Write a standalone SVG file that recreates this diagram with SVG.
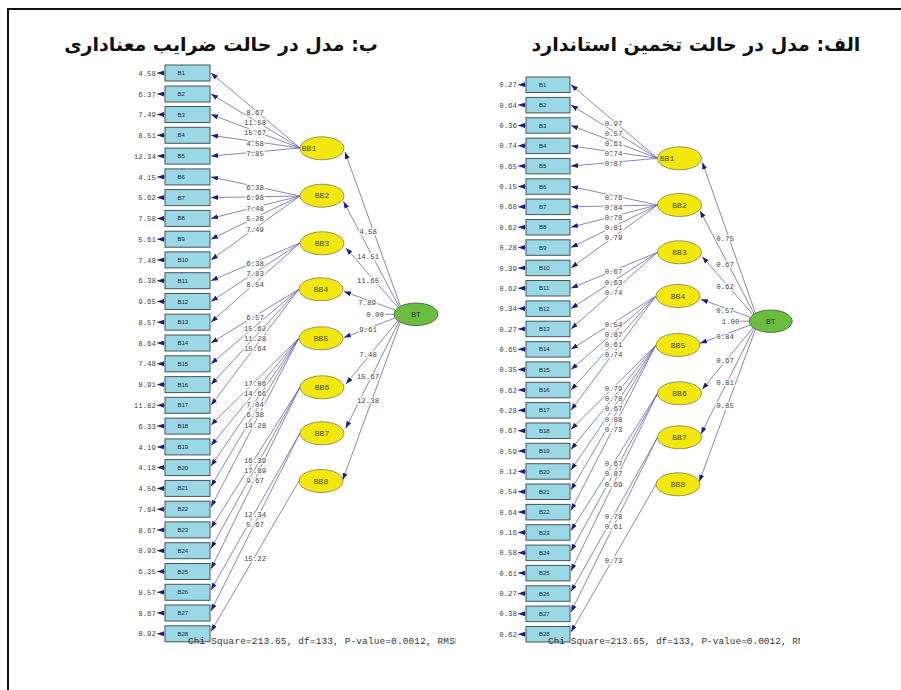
<svg xmlns="http://www.w3.org/2000/svg" width="901" height="690" viewBox="0 0 901 690">
<style>
.frame{fill:none;stroke:#111;stroke-width:2}
.ttl{font-family:"DejaVu Sans",sans-serif;font-weight:bold;font-size:19px;fill:#111;text-anchor:middle}
.box{fill:#9bd8e6;stroke:#45555a;stroke-width:1}
.bt{font-family:"Liberation Sans",sans-serif;font-size:6px;fill:#223}
.ell{fill:#f2e70f;stroke:#7d7d55;stroke-width:0.8}
.gr{fill:#6bbd42;stroke:#3d5c33;stroke-width:0.8}
.et{font-family:"Liberation Mono",monospace;font-size:8px;fill:#4a4a10;text-anchor:middle}
.gt{font-family:"Liberation Mono",monospace;font-size:8px;fill:#1f3d1a;text-anchor:middle}
.ln{stroke:#6868a8;stroke-width:0.8;fill:none;marker-end:url(#ah)}
.pl{stroke:#6868a8;stroke-width:0.8;fill:none}
.lb{font-family:"Liberation Mono",monospace;font-size:7.4px;fill:#444;text-anchor:middle;stroke:#fff;stroke-width:2.5;paint-order:stroke;stroke-linejoin:round}
.er{font-family:"Liberation Mono",monospace;font-size:7.4px;fill:#444;text-anchor:end}
.chi{font-family:"Liberation Mono",monospace;font-size:9.4px;fill:#333}
</style>
<defs>
<marker id="ah" markerUnits="userSpaceOnUse" markerWidth="7" markerHeight="5" refX="7" refY="2.5" orient="auto"><path d="M0,0 L7,2.5 L0,5 z" fill="#1e1e78"/></marker>
<clipPath id="cl"><rect x="0" y="630" width="456" height="20"/></clipPath>
<clipPath id="cr"><rect x="500" y="630" width="300" height="20"/></clipPath>
</defs>
<rect x="0" y="0" width="901" height="690" fill="#fff"/>
<path class="frame" d="M8,690 V9 H901"/>
<text class="ttl" x="221" y="51">ب: مدل در حالت ضرایب معناداری</text>
<text class="ttl" x="696" y="51" font-size="18.5">الف: مدل در حالت تخمین استاندارد</text>

<g id="connectors">
<line class="ln" x1="300" y1="148" x2="211" y2="73"/>
<line class="ln" x1="300" y1="148" x2="211" y2="94"/>
<line class="ln" x1="300" y1="148" x2="211" y2="114.5"/>
<line class="ln" x1="300" y1="148" x2="211" y2="135.3"/>
<line class="ln" x1="300" y1="148" x2="211" y2="156.1"/>
<line class="ln" x1="300" y1="196" x2="211" y2="176.9"/>
<line class="ln" x1="300" y1="196" x2="211" y2="197.6"/>
<line class="ln" x1="300" y1="196" x2="211" y2="218.4"/>
<line class="ln" x1="300" y1="196" x2="211" y2="239.2"/>
<line class="ln" x1="300" y1="196" x2="211" y2="259.9"/>
<line class="ln" x1="300" y1="243" x2="211" y2="280.7"/>
<line class="ln" x1="300" y1="243" x2="211" y2="301.5"/>
<line class="ln" x1="300" y1="243" x2="211" y2="322.2"/>
<line class="ln" x1="299" y1="289" x2="211" y2="343"/>
<line class="ln" x1="299" y1="289" x2="211" y2="363.8"/>
<line class="ln" x1="299" y1="289" x2="211" y2="384.6"/>
<line class="ln" x1="299" y1="289" x2="211" y2="405.3"/>
<line class="ln" x1="299" y1="338" x2="211" y2="425"/>
<line class="ln" x1="299" y1="338" x2="211" y2="445.5"/>
<line class="ln" x1="299" y1="338" x2="211" y2="466"/>
<line class="ln" x1="299" y1="338" x2="211" y2="486.5"/>
<line class="ln" x1="299" y1="338" x2="211" y2="507"/>
<line class="ln" x1="300" y1="387" x2="211" y2="528"/>
<line class="ln" x1="300" y1="387" x2="211" y2="548.5"/>
<line class="ln" x1="300" y1="387" x2="211" y2="569"/>
<line class="ln" x1="300" y1="433" x2="211" y2="590"/>
<line class="ln" x1="300" y1="433" x2="211" y2="611"/>
<line class="ln" x1="299" y1="481" x2="211" y2="631.5"/>
<line class="ln" x1="400.4" y1="306" x2="345" y2="152"/>
<line class="ln" x1="399.1" y1="306.7" x2="343.5" y2="201.5"/>
<line class="ln" x1="398" y1="307.5" x2="346" y2="248"/>
<line class="ln" x1="395.3" y1="310.1" x2="344" y2="291.5"/>
<line class="ln" x1="395.3" y1="317.9" x2="344" y2="337.5"/>
<line class="ln" x1="398" y1="320.5" x2="346" y2="384"/>
<line class="ln" x1="399.1" y1="321.3" x2="345.7" y2="428.3"/>
<line class="ln" x1="400.4" y1="322" x2="342.7" y2="480"/>
<line class="pl" x1="385" y1="314.3" x2="394" y2="314.3"/>
<g class="ln">
<line x1="165" y1="73" x2="157" y2="73"/><line x1="165" y1="94" x2="157" y2="94"/><line x1="165" y1="114.5" x2="157" y2="114.5"/><line x1="165" y1="135.3" x2="157" y2="135.3"/><line x1="165" y1="156.1" x2="157" y2="156.1"/><line x1="165" y1="176.9" x2="157" y2="176.9"/><line x1="165" y1="197.6" x2="157" y2="197.6"/><line x1="165" y1="218.4" x2="157" y2="218.4"/><line x1="165" y1="239.2" x2="157" y2="239.2"/><line x1="165" y1="259.9" x2="157" y2="259.9"/><line x1="165" y1="280.7" x2="157" y2="280.7"/><line x1="165" y1="301.5" x2="157" y2="301.5"/><line x1="165" y1="322.2" x2="157" y2="322.2"/><line x1="165" y1="343" x2="157" y2="343"/><line x1="165" y1="363.8" x2="157" y2="363.8"/><line x1="165" y1="384.6" x2="157" y2="384.6"/><line x1="165" y1="405.3" x2="157" y2="405.3"/><line x1="165" y1="426.1" x2="157" y2="426.1"/><line x1="165" y1="446.9" x2="157" y2="446.9"/><line x1="165" y1="467.6" x2="157" y2="467.6"/><line x1="165" y1="488.4" x2="157" y2="488.4"/><line x1="165" y1="509.2" x2="157" y2="509.2"/><line x1="165" y1="529.9" x2="157" y2="529.9"/><line x1="165" y1="550.7" x2="157" y2="550.7"/><line x1="165" y1="571.5" x2="157" y2="571.5"/><line x1="165" y1="592.3" x2="157" y2="592.3"/><line x1="165" y1="613" x2="157" y2="613"/><line x1="165" y1="633.8" x2="157" y2="633.8"/>
</g>
<line class="ln" x1="657.5" y1="158.3" x2="571" y2="84.7"/>
<line class="ln" x1="657.5" y1="158.3" x2="571" y2="105.1"/>
<line class="ln" x1="657.5" y1="158.3" x2="571" y2="125.4"/>
<line class="ln" x1="657.5" y1="158.3" x2="571" y2="145.8"/>
<line class="ln" x1="657.5" y1="158.3" x2="571" y2="166.1"/>
<line class="ln" x1="657.5" y1="205" x2="571" y2="186.5"/>
<line class="ln" x1="657.5" y1="205" x2="571" y2="206.8"/>
<line class="ln" x1="657.5" y1="205" x2="571" y2="227.2"/>
<line class="ln" x1="657.5" y1="205" x2="571" y2="247.5"/>
<line class="ln" x1="657.5" y1="205" x2="571" y2="267.9"/>
<line class="ln" x1="657.5" y1="252.3" x2="571" y2="288.2"/>
<line class="ln" x1="657.5" y1="252.3" x2="571" y2="308.6"/>
<line class="ln" x1="657.5" y1="252.3" x2="571" y2="328.9"/>
<line class="ln" x1="656" y1="296" x2="571" y2="349.3"/>
<line class="ln" x1="656" y1="296" x2="571" y2="369.6"/>
<line class="ln" x1="656" y1="296" x2="571" y2="390"/>
<line class="ln" x1="656" y1="296" x2="571" y2="410.3"/>
<line class="ln" x1="656" y1="345" x2="571" y2="429.5"/>
<line class="ln" x1="656" y1="345" x2="571" y2="449.5"/>
<line class="ln" x1="656" y1="345" x2="571" y2="470"/>
<line class="ln" x1="656" y1="345" x2="571" y2="490"/>
<line class="ln" x1="656" y1="345" x2="571" y2="510.5"/>
<line class="ln" x1="657.5" y1="393.3" x2="571" y2="530.5"/>
<line class="ln" x1="657.5" y1="393.3" x2="571" y2="551"/>
<line class="ln" x1="657.5" y1="393.3" x2="571" y2="571"/>
<line class="ln" x1="657.5" y1="437.3" x2="571" y2="591.5"/>
<line class="ln" x1="657.5" y1="437.3" x2="571" y2="612"/>
<line class="ln" x1="656" y1="484.3" x2="571" y2="632"/>
<line class="ln" x1="755.5" y1="313.3" x2="702.3" y2="162.3"/>
<line class="ln" x1="754.2" y1="314" x2="700" y2="210.7"/>
<line class="ln" x1="753.1" y1="314.8" x2="702.3" y2="256.7"/>
<line class="ln" x1="750.5" y1="317.4" x2="701" y2="299.3"/>
<line class="ln" x1="750.5" y1="325" x2="700" y2="343.3"/>
<line class="ln" x1="753.1" y1="327.6" x2="702.3" y2="389.3"/>
<line class="ln" x1="754.2" y1="328.4" x2="701" y2="434"/>
<line class="ln" x1="755.5" y1="329.1" x2="699.3" y2="481.7"/>
<line class="pl" x1="740" y1="321.2" x2="749.3" y2="321.2"/>
<g class="ln">
<line x1="526" y1="84.7" x2="518" y2="84.7"/><line x1="526" y1="105.1" x2="518" y2="105.1"/><line x1="526" y1="125.4" x2="518" y2="125.4"/><line x1="526" y1="145.8" x2="518" y2="145.8"/><line x1="526" y1="166.1" x2="518" y2="166.1"/><line x1="526" y1="186.5" x2="518" y2="186.5"/><line x1="526" y1="206.8" x2="518" y2="206.8"/><line x1="526" y1="227.2" x2="518" y2="227.2"/><line x1="526" y1="247.5" x2="518" y2="247.5"/><line x1="526" y1="267.9" x2="518" y2="267.9"/><line x1="526" y1="288.2" x2="518" y2="288.2"/><line x1="526" y1="308.6" x2="518" y2="308.6"/><line x1="526" y1="328.9" x2="518" y2="328.9"/><line x1="526" y1="349.3" x2="518" y2="349.3"/><line x1="526" y1="369.6" x2="518" y2="369.6"/><line x1="526" y1="390" x2="518" y2="390"/><line x1="526" y1="410.3" x2="518" y2="410.3"/><line x1="526" y1="430.7" x2="518" y2="430.7"/><line x1="526" y1="451" x2="518" y2="451"/><line x1="526" y1="471.4" x2="518" y2="471.4"/><line x1="526" y1="491.7" x2="518" y2="491.7"/><line x1="526" y1="512.1" x2="518" y2="512.1"/><line x1="526" y1="532.4" x2="518" y2="532.4"/><line x1="526" y1="552.8" x2="518" y2="552.8"/><line x1="526" y1="573.1" x2="518" y2="573.1"/><line x1="526" y1="593.5" x2="518" y2="593.5"/><line x1="526" y1="613.8" x2="518" y2="613.8"/><line x1="526" y1="634.2" x2="518" y2="634.2"/>
</g>
</g>

<g id="path-labels-left">
<text class="lb" x="255" y="115">8.67</text><text class="lb" x="255" y="125">11.58</text><text class="lb" x="255" y="135.4">15.67</text><text class="lb" x="255" y="146">4.58</text><text class="lb" x="255" y="156.4">7.85</text>
<text class="lb" x="255" y="190">6.38</text><text class="lb" x="255" y="200.4">6.98</text><text class="lb" x="255" y="211">7.48</text><text class="lb" x="255" y="221.4">5.28</text><text class="lb" x="255" y="231.7">7.49</text>
<text class="lb" x="255" y="266">6.38</text><text class="lb" x="255" y="276.4">7.83</text><text class="lb" x="255" y="287">8.54</text>
<text class="lb" x="255" y="320.4">6.57</text><text class="lb" x="255" y="330.7">15.62</text><text class="lb" x="255" y="341">11.28</text><text class="lb" x="255" y="351.4">15.64</text>
<text class="lb" x="255" y="386">17.86</text><text class="lb" x="255" y="396.4">14.66</text><text class="lb" x="255" y="406.7">7.04</text><text class="lb" x="255" y="417.4">6.38</text><text class="lb" x="255" y="427.7">14.28</text>
<text class="lb" x="255" y="462.7">16.39</text><text class="lb" x="255" y="472.7">17.89</text><text class="lb" x="255" y="483">9.67</text>
<text class="lb" x="255" y="516.7">12.34</text><text class="lb" x="255" y="526.7">5.67</text>
<text class="lb" x="255" y="560.7">15.22</text>
<text class="lb" x="368" y="233.7">4.58</text><text class="lb" x="368" y="259.4">14.51</text><text class="lb" x="368" y="282.7">11.65</text><text class="lb" x="367" y="305.4">7.89</text><text class="lb" x="375" y="317">0.00</text><text class="lb" x="368" y="331.7">9.61</text><text class="lb" x="368" y="357">7.48</text><text class="lb" x="368" y="379.4">15.67</text><text class="lb" x="368" y="403.4">12.38</text>
</g>
<g id="path-labels-right">
<text class="lb" x="613.5" y="126">0.97</text><text class="lb" x="613.5" y="136">0.57</text><text class="lb" x="613.5" y="146.4">0.61</text><text class="lb" x="613.5" y="156.4">0.74</text><text class="lb" x="613.5" y="166.4">0.87</text>
<text class="lb" x="613.5" y="200">0.76</text><text class="lb" x="613.5" y="210">0.84</text><text class="lb" x="613.5" y="220.4">0.78</text><text class="lb" x="613.5" y="230.4">0.81</text><text class="lb" x="613.5" y="240.4">0.79</text>
<text class="lb" x="613.5" y="274.4">0.67</text><text class="lb" x="613.5" y="284.7">0.63</text><text class="lb" x="613.5" y="294.7">0.74</text>
<text class="lb" x="613.5" y="326.7">0.54</text><text class="lb" x="613.5" y="337">0.87</text><text class="lb" x="613.5" y="347.4">0.61</text><text class="lb" x="613.5" y="357.4">0.74</text>
<text class="lb" x="613.5" y="391">0.79</text><text class="lb" x="613.5" y="401">0.78</text><text class="lb" x="613.5" y="411.4">0.67</text><text class="lb" x="613.5" y="421.7">0.88</text><text class="lb" x="613.5" y="432">0.73</text>
<text class="lb" x="613.5" y="466">0.67</text><text class="lb" x="613.5" y="476.4">0.87</text><text class="lb" x="613.5" y="486.7">0.69</text>
<text class="lb" x="613.5" y="519.4">0.78</text><text class="lb" x="613.5" y="529.4">0.61</text>
<text class="lb" x="613.5" y="562.7">0.73</text>
<text class="lb" x="725" y="241">0.75</text><text class="lb" x="725" y="266.7">0.67</text><text class="lb" x="725" y="289.4">0.62</text><text class="lb" x="725" y="313.4">0.57</text><text class="lb" x="730.5" y="324">1.00</text><text class="lb" x="725" y="338.7">0.84</text><text class="lb" x="725" y="362.7">0.67</text><text class="lb" x="725" y="385">0.81</text><text class="lb" x="725" y="408.4">0.85</text>
</g>

<g id="error-labels">
<text class="er" x="156" y="75.6">4.58</text><text class="er" x="156" y="96.6">6.37</text><text class="er" x="156" y="117.1">7.49</text><text class="er" x="156" y="137.9">8.51</text><text class="er" x="156" y="158.7">12.34</text><text class="er" x="156" y="179.5">4.15</text><text class="er" x="156" y="200.2">5.62</text><text class="er" x="156" y="221">7.58</text><text class="er" x="156" y="241.8">5.61</text><text class="er" x="156" y="262.5">7.48</text><text class="er" x="156" y="283.3">6.38</text><text class="er" x="156" y="304.1">9.65</text><text class="er" x="156" y="324.8">8.57</text><text class="er" x="156" y="345.6">8.64</text><text class="er" x="156" y="366.4">7.48</text><text class="er" x="156" y="387.2">8.91</text><text class="er" x="156" y="407.9">11.82</text><text class="er" x="156" y="428.7">6.33</text><text class="er" x="156" y="449.5">4.19</text><text class="er" x="156" y="470.2">4.18</text><text class="er" x="156" y="491">4.56</text><text class="er" x="156" y="511.8">7.84</text><text class="er" x="156" y="532.5">8.67</text><text class="er" x="156" y="553.3">8.93</text><text class="er" x="156" y="574.1">6.35</text><text class="er" x="156" y="594.9">8.57</text><text class="er" x="156" y="615.6">8.67</text><text class="er" x="156" y="636.4">8.92</text>
<text class="er" x="517" y="87.3">0.27</text><text class="er" x="517" y="107.7">0.64</text><text class="er" x="517" y="128">0.36</text><text class="er" x="517" y="148.4">0.74</text><text class="er" x="517" y="168.7">0.65</text><text class="er" x="517" y="189.1">0.15</text><text class="er" x="517" y="209.4">0.68</text><text class="er" x="517" y="229.8">0.62</text><text class="er" x="517" y="250.1">0.28</text><text class="er" x="517" y="270.5">0.39</text><text class="er" x="517" y="290.8">0.62</text><text class="er" x="517" y="311.2">0.34</text><text class="er" x="517" y="331.5">0.27</text><text class="er" x="517" y="351.9">0.65</text><text class="er" x="517" y="372.2">0.35</text><text class="er" x="517" y="392.6">0.62</text><text class="er" x="517" y="412.9">0.28</text><text class="er" x="517" y="433.3">0.67</text><text class="er" x="517" y="453.6">0.59</text><text class="er" x="517" y="474">0.12</text><text class="er" x="517" y="494.3">0.54</text><text class="er" x="517" y="514.7">0.64</text><text class="er" x="517" y="535">0.16</text><text class="er" x="517" y="555.4">0.58</text><text class="er" x="517" y="575.7">0.61</text><text class="er" x="517" y="596.1">0.27</text><text class="er" x="517" y="616.4">0.38</text><text class="er" x="517" y="636.8">0.62</text>
</g>

<g id="L-B1"><rect class="box" x="165" y="65" width="45" height="16"/><text class="bt" x="177.5" y="75">B1</text></g>
<g id="L-B2"><rect class="box" x="165" y="86" width="45" height="16"/><text class="bt" x="177.5" y="96">B2</text></g>
<g id="L-B3"><rect class="box" x="165" y="106.5" width="45" height="16"/><text class="bt" x="177.5" y="116.5">B3</text></g>
<g id="L-B4"><rect class="box" x="165" y="127.3" width="45" height="16"/><text class="bt" x="177.5" y="137.3">B4</text></g>
<g id="L-B5"><rect class="box" x="165" y="148.1" width="45" height="16"/><text class="bt" x="177.5" y="158.1">B5</text></g>
<g id="L-B6"><rect class="box" x="165" y="168.9" width="45" height="16"/><text class="bt" x="177.5" y="178.9">B6</text></g>
<g id="L-B7"><rect class="box" x="165" y="189.6" width="45" height="16"/><text class="bt" x="177.5" y="199.6">B7</text></g>
<g id="L-B8"><rect class="box" x="165" y="210.4" width="45" height="16"/><text class="bt" x="177.5" y="220.4">B8</text></g>
<g id="L-B9"><rect class="box" x="165" y="231.2" width="45" height="16"/><text class="bt" x="177.5" y="241.2">B9</text></g>
<g id="L-B10"><rect class="box" x="165" y="251.9" width="45" height="16"/><text class="bt" x="177.5" y="261.9">B10</text></g>
<g id="L-B11"><rect class="box" x="165" y="272.7" width="45" height="16"/><text class="bt" x="177.5" y="282.7">B11</text></g>
<g id="L-B12"><rect class="box" x="165" y="293.5" width="45" height="16"/><text class="bt" x="177.5" y="303.5">B12</text></g>
<g id="L-B13"><rect class="box" x="165" y="314.2" width="45" height="16"/><text class="bt" x="177.5" y="324.2">B13</text></g>
<g id="L-B14"><rect class="box" x="165" y="335" width="45" height="16"/><text class="bt" x="177.5" y="345">B14</text></g>
<g id="L-B15"><rect class="box" x="165" y="355.8" width="45" height="16"/><text class="bt" x="177.5" y="365.8">B15</text></g>
<g id="L-B16"><rect class="box" x="165" y="376.6" width="45" height="16"/><text class="bt" x="177.5" y="386.6">B16</text></g>
<g id="L-B17"><rect class="box" x="165" y="397.3" width="45" height="16"/><text class="bt" x="177.5" y="407.3">B17</text></g>
<g id="L-B18"><rect class="box" x="165" y="418.1" width="45" height="16"/><text class="bt" x="177.5" y="428.1">B18</text></g>
<g id="L-B19"><rect class="box" x="165" y="438.9" width="45" height="16"/><text class="bt" x="177.5" y="448.9">B19</text></g>
<g id="L-B20"><rect class="box" x="165" y="459.6" width="45" height="16"/><text class="bt" x="177.5" y="469.6">B20</text></g>
<g id="L-B21"><rect class="box" x="165" y="480.4" width="45" height="16"/><text class="bt" x="177.5" y="490.4">B21</text></g>
<g id="L-B22"><rect class="box" x="165" y="501.2" width="45" height="16"/><text class="bt" x="177.5" y="511.2">B22</text></g>
<g id="L-B23"><rect class="box" x="165" y="521.9" width="45" height="16"/><text class="bt" x="177.5" y="531.9">B23</text></g>
<g id="L-B24"><rect class="box" x="165" y="542.7" width="45" height="16"/><text class="bt" x="177.5" y="552.7">B24</text></g>
<g id="L-B25"><rect class="box" x="165" y="563.5" width="45" height="16"/><text class="bt" x="177.5" y="573.5">B25</text></g>
<g id="L-B26"><rect class="box" x="165" y="584.3" width="45" height="16"/><text class="bt" x="177.5" y="594.3">B26</text></g>
<g id="L-B27"><rect class="box" x="165" y="605" width="45" height="16"/><text class="bt" x="177.5" y="615">B27</text></g>
<g id="L-B28"><rect class="box" x="165" y="625.8" width="45" height="16"/><text class="bt" x="177.5" y="635.8">B28</text></g>

<g id="L-BB1"><ellipse class="ell" cx="322" cy="148.3" rx="22" ry="11.5"/><text class="et" x="309" y="151">BB1</text></g>
<g id="L-BB2"><ellipse class="ell" cx="322" cy="195.7" rx="22" ry="11.5"/><text class="et" x="322" y="198.4">BB2</text></g>
<g id="L-BB3"><ellipse class="ell" cx="322" cy="243.3" rx="22" ry="11.5"/><text class="et" x="322" y="246">BB3</text></g>
<g id="L-BB4"><ellipse class="ell" cx="321" cy="289.3" rx="22" ry="11.5"/><text class="et" x="321" y="292">BB4</text></g>
<g id="L-BB5"><ellipse class="ell" cx="321" cy="338.3" rx="22" ry="11.5"/><text class="et" x="321" y="341">BB5</text></g>
<g id="L-BB6"><ellipse class="ell" cx="322" cy="387.3" rx="22" ry="11.5"/><text class="et" x="322" y="390">BB6</text></g>
<g id="L-BB7"><ellipse class="ell" cx="322" cy="433.3" rx="22" ry="11.5"/><text class="et" x="322" y="436">BB7</text></g>
<g id="L-BB8"><ellipse class="ell" cx="321" cy="481" rx="22" ry="11.5"/><text class="et" x="321" y="483.7">BB8</text></g>
<g id="L-BT"><ellipse class="gr" cx="416" cy="314.3" rx="22" ry="11.3"/><text class="gt" x="416" y="317">BT</text></g>

<g id="R-B1"><rect class="box" x="526" y="77" width="44" height="15.5"/><text class="bt" x="539" y="86.8">B1</text></g>
<g id="R-B2"><rect class="box" x="526" y="97.4" width="44" height="15.5"/><text class="bt" x="539" y="107.2">B2</text></g>
<g id="R-B3"><rect class="box" x="526" y="117.7" width="44" height="15.5"/><text class="bt" x="539" y="127.5">B3</text></g>
<g id="R-B4"><rect class="box" x="526" y="138.1" width="44" height="15.5"/><text class="bt" x="539" y="147.9">B4</text></g>
<g id="R-B5"><rect class="box" x="526" y="158.4" width="44" height="15.5"/><text class="bt" x="539" y="168.2">B5</text></g>
<g id="R-B6"><rect class="box" x="526" y="178.8" width="44" height="15.5"/><text class="bt" x="539" y="188.6">B6</text></g>
<g id="R-B7"><rect class="box" x="526" y="199.1" width="44" height="15.5"/><text class="bt" x="539" y="208.9">B7</text></g>
<g id="R-B8"><rect class="box" x="526" y="219.5" width="44" height="15.5"/><text class="bt" x="539" y="229.3">B8</text></g>
<g id="R-B9"><rect class="box" x="526" y="239.8" width="44" height="15.5"/><text class="bt" x="539" y="249.6">B9</text></g>
<g id="R-B10"><rect class="box" x="526" y="260.2" width="44" height="15.5"/><text class="bt" x="539" y="270">B10</text></g>
<g id="R-B11"><rect class="box" x="526" y="280.5" width="44" height="15.5"/><text class="bt" x="539" y="290.3">B11</text></g>
<g id="R-B12"><rect class="box" x="526" y="300.9" width="44" height="15.5"/><text class="bt" x="539" y="310.7">B12</text></g>
<g id="R-B13"><rect class="box" x="526" y="321.2" width="44" height="15.5"/><text class="bt" x="539" y="331">B13</text></g>
<g id="R-B14"><rect class="box" x="526" y="341.6" width="44" height="15.5"/><text class="bt" x="539" y="351.4">B14</text></g>
<g id="R-B15"><rect class="box" x="526" y="361.9" width="44" height="15.5"/><text class="bt" x="539" y="371.7">B15</text></g>
<g id="R-B16"><rect class="box" x="526" y="382.3" width="44" height="15.5"/><text class="bt" x="539" y="392.1">B16</text></g>
<g id="R-B17"><rect class="box" x="526" y="402.6" width="44" height="15.5"/><text class="bt" x="539" y="412.4">B17</text></g>
<g id="R-B18"><rect class="box" x="526" y="423" width="44" height="15.5"/><text class="bt" x="539" y="432.8">B18</text></g>
<g id="R-B19"><rect class="box" x="526" y="443.3" width="44" height="15.5"/><text class="bt" x="539" y="453.1">B19</text></g>
<g id="R-B20"><rect class="box" x="526" y="463.7" width="44" height="15.5"/><text class="bt" x="539" y="473.5">B20</text></g>
<g id="R-B21"><rect class="box" x="526" y="484" width="44" height="15.5"/><text class="bt" x="539" y="493.8">B21</text></g>
<g id="R-B22"><rect class="box" x="526" y="504.4" width="44" height="15.5"/><text class="bt" x="539" y="514.2">B22</text></g>
<g id="R-B23"><rect class="box" x="526" y="524.7" width="44" height="15.5"/><text class="bt" x="539" y="534.5">B23</text></g>
<g id="R-B24"><rect class="box" x="526" y="545.1" width="44" height="15.5"/><text class="bt" x="539" y="554.9">B24</text></g>
<g id="R-B25"><rect class="box" x="526" y="565.4" width="44" height="15.5"/><text class="bt" x="539" y="575.2">B25</text></g>
<g id="R-B26"><rect class="box" x="526" y="585.8" width="44" height="15.5"/><text class="bt" x="539" y="595.6">B26</text></g>
<g id="R-B27"><rect class="box" x="526" y="606.1" width="44" height="15.5"/><text class="bt" x="539" y="615.9">B27</text></g>
<g id="R-B28"><rect class="box" x="526" y="626.5" width="44" height="15.5"/><text class="bt" x="539" y="636.3">B28</text></g>

<g id="R-BB1"><ellipse class="ell" cx="679.5" cy="158.3" rx="22" ry="11.5"/><text class="et" x="667" y="161">BB1</text></g>
<g id="R-BB2"><ellipse class="ell" cx="679.5" cy="205" rx="22" ry="11.5"/><text class="et" x="679.5" y="207.7">BB2</text></g>
<g id="R-BB3"><ellipse class="ell" cx="679.5" cy="252.3" rx="22" ry="11.5"/><text class="et" x="679.5" y="255">BB3</text></g>
<g id="R-BB4"><ellipse class="ell" cx="678" cy="296" rx="22" ry="11.5"/><text class="et" x="678" y="298.7">BB4</text></g>
<g id="R-BB5"><ellipse class="ell" cx="678" cy="345" rx="22" ry="11.5"/><text class="et" x="678" y="347.7">BB5</text></g>
<g id="R-BB6"><ellipse class="ell" cx="679.5" cy="393.3" rx="22" ry="11.5"/><text class="et" x="679.5" y="396">BB6</text></g>
<g id="R-BB7"><ellipse class="ell" cx="679.5" cy="437.3" rx="22" ry="11.5"/><text class="et" x="679.5" y="440">BB7</text></g>
<g id="R-BB8"><ellipse class="ell" cx="678" cy="484.3" rx="22" ry="11.5"/><text class="et" x="678" y="487">BB8</text></g>
<g id="R-BT"><ellipse class="gr" cx="770.7" cy="321.2" rx="21.5" ry="11.2"/><text class="gt" x="770.7" y="324">BT</text></g>

<g id="fit-stats">
<text class="chi" x="188" y="644" textLength="272.6" lengthAdjust="spacing" clip-path="url(#cl)">Chi Square=213.65, df=133, P-value=0.0012, RMSE</text>
<text class="chi" x="548" y="644.3" textLength="255.6" lengthAdjust="spacing" clip-path="url(#cr)">Chi Square=213.65, df=133, P-value=0.0012, RM</text>
</g>
</svg>
